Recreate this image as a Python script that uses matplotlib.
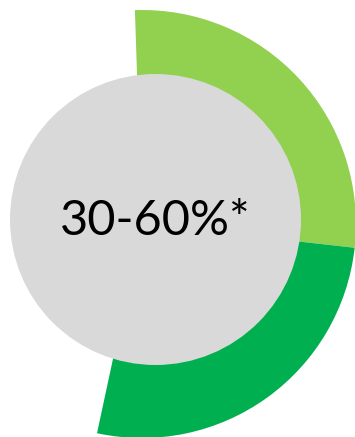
import matplotlib.pyplot as plt
from matplotlib.patches import Circle

# ring segments as share of a full circle (rest left blank)
segment_names = ["light", "dark", "blank"]
segment_values = [27.3, 26.6, 46.1]
segment_colors = ["#92D050", "#00B050", "none"]
center_label = "30-60%*"

W, H = 355, 437

fig = plt.figure(figsize=(W / 100, H / 100), dpi=100)
ax = fig.add_axes([0, 0, 1, 1])

ax.pie(
    segment_values,
    colors=segment_colors,
    startangle=91.9,
    counterclock=False,
    center=(142, H - 224),
    radius=214,
    wedgeprops=dict(linewidth=0),
)

ax.add_patch(Circle((155.5, H - 219.5), 145.5, facecolor="#D9D9D9", edgecolor="none", zorder=3))
ax.text(155, H - 221, center_label, ha="center", va="center",
        fontsize=35, family="Lato", color="black", zorder=4)

ax.set_xlim(0, W)
ax.set_ylim(0, H)
ax.set_aspect("equal")
ax.axis("off")

fig.savefig("out.png", dpi=100)
plt.close(fig)
